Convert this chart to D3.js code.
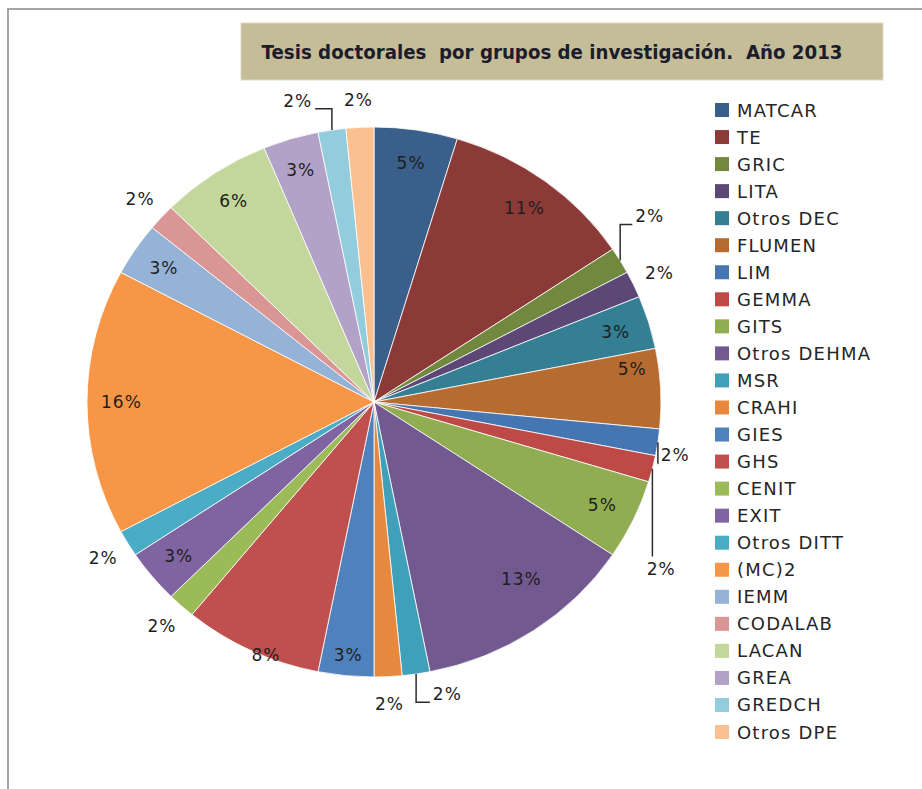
<!DOCTYPE html>
<html>
<head>
<meta charset="utf-8">
<script src="https://cdn.jsdelivr.net/npm/d3@7"></script>
<style>
  html, body { margin: 0; padding: 0; background: #fff; overflow: hidden; }
  svg { display: block; }
  text { font-family: "DejaVu Sans", Verdana, sans-serif; }
</style>
</head>
<body>
<div id="chart"></div>
<script>
// grupos y número de tesis (2013)
const grupos = ["MATCAR", "TE", "GRIC", "LITA", "Otros DEC", "FLUMEN", "LIM", "GEMMA", "GITS",
  "Otros DEHMA", "MSR", "CRAHI", "GIES", "GHS", "CENIT", "EXIT", "Otros DITT", "(MC)2",
  "IEMM", "CODALAB", "LACAN", "GREA", "GREDCH", "Otros DPE"];
const tesis = [3, 7, 1, 1, 2, 3, 1, 1, 3, 8, 1, 1, 2, 5, 1, 2, 1, 10, 2, 1, 4, 2, 1, 1];

const colores = ["#3a5f8b", "#8c3a37", "#71893f", "#5c4776", "#347f94", "#b66b30",
  "#4676b2", "#bd4a47", "#90ad51", "#72598f", "#41a0b9", "#e6893e",
  "#4f81bd", "#c0504d", "#9bbb59", "#8064a2", "#4bacc6", "#f79646",
  "#95b3d7", "#d99694", "#c3d69b", "#b3a2c7", "#93cddd", "#fac090"];

const titulo = "Tesis doctorales  por grupos de investigación.  Año 2013";

// ajustes de etiquetas (como "mejor ajuste" de Excel)
const ajusteEtiqueta = {
  "GRIC": [5, -30], "LIM": [-11, 9], "GEMMA": [-19, 93], "MSR": [27, -7], "GREDCH": [-30, -2],
  "FLUMEN": [6, -21], "Otros DEHMA": [7, -24], "GHS": [0, 34], "GIES": [-1, 12]
};

const width = 922, height = 789;
const cx = 374, cy = 402, rx = 287, ry = 275;

const svg = d3.select("#chart").append("svg")
  .attr("width", width).attr("height", height);

// borde del área del gráfico
svg.append("rect").attr("x", 8).attr("y", 9).attr("width", 960).attr("height", 820)
  .attr("fill", "#fff").attr("stroke", "#a6a6a6").attr("stroke-width", 2);

// título
svg.append("rect").attr("x", 241).attr("y", 23).attr("width", 642).attr("height", 57)
  .attr("fill", "#c4bd97").attr("stroke", "#ddd8c4").attr("stroke-width", 1);
svg.append("text")
  .attr("x", 552).attr("y", 52)
  .attr("text-anchor", "middle").attr("dominant-baseline", "central")
  .attr("font-family", "Lato, 'Open Sans', sans-serif")
  .attr("font-weight", "bold").attr("font-size", 19).attr("fill", "#1c1c2a")
  .attr("textLength", 581).attr("lengthAdjust", "spacingAndGlyphs")
  .style("white-space", "pre")
  .text(titulo);

const total = d3.sum(tesis);
const datos = grupos.map((g, i) => ({ grupo: g, valor: tesis[i], color: colores[i] }));

const pie = d3.pie().sort(null).value(d => d.valor);
const arcos = pie(datos);
const arc = d3.arc().innerRadius(0).outerRadius(rx);

svg.append("g")
  .attr("transform", `translate(${cx},${cy}) scale(1,${ry / rx})`)
  .selectAll("path").data(arcos).enter().append("path")
  .attr("d", arc)
  .attr("fill", d => d.data.color)
  .attr("stroke", "#fff").attr("stroke-width", 0.8)
  .attr("vector-effect", "non-scaling-stroke");

// posición sobre la elipse
function punto(a, f) {
  return [cx + f * rx * Math.sin(a), cy - f * ry * Math.cos(a)];
}

const fmt = d => Math.round(d.value / total * 100) + "%";

const gEtiquetas = svg.append("g");
const gGuias = svg.append("g");

arcos.forEach(d => {
  const a = (d.startAngle + d.endAngle) / 2;
  const fuera = d.value === 1;
  let [x, y] = punto(a, fuera ? 1.1 : 0.88);
  const aj = ajusteEtiqueta[d.data.grupo];
  if (aj) { x += aj[0]; y += aj[1]; }

  const t = gEtiquetas.append("text")
    .attr("x", x).attr("y", y)
    .attr("text-anchor", "middle").attr("dominant-baseline", "central")
    .attr("font-size", 17).attr("letter-spacing", 1)
    .attr("fill", "#1e1e1e")
    .text(fmt(d));

  // línea guía para etiquetas exteriores desplazadas
  if (fuera && aj) {
    const hw = t.node().getComputedTextLength() / 2;
    const [ex, ey] = punto(a, 1);
    let pts;
    if (ex > x - hw && ex < x + hw) {
      const yEnd = y > ey ? y - 12 : y + 12;
      pts = [[ex, ey], [ex, yEnd]];
    } else {
      const ly = y + 8;
      const lx = ex < x ? x - hw - 3 : x + hw + 3;
      pts = [[ex, ey], [ex, ly], [lx, ly]];
    }
    gGuias.append("path")
      .attr("d", d3.line()(pts))
      .attr("fill", "none").attr("stroke", "#2b2b2b").attr("stroke-width", 1.5);
  }
});

// leyenda
const yLeyenda = d3.scalePoint().domain(grupos).range([110, 732]);
const leyenda = svg.append("g").selectAll("g").data(datos).enter().append("g")
  .attr("transform", d => `translate(715,${yLeyenda(d.grupo)})`);
leyenda.append("rect")
  .attr("x", 0).attr("y", -7).attr("width", 14).attr("height", 14)
  .attr("fill", d => d.color);
leyenda.append("text")
  .attr("x", 22).attr("y", 0).attr("dominant-baseline", "central")
  .attr("font-size", 18).attr("letter-spacing", 1.2)
  .attr("fill", "#262626")
  .text(d => d.grupo);
</script>
</body>
</html>
